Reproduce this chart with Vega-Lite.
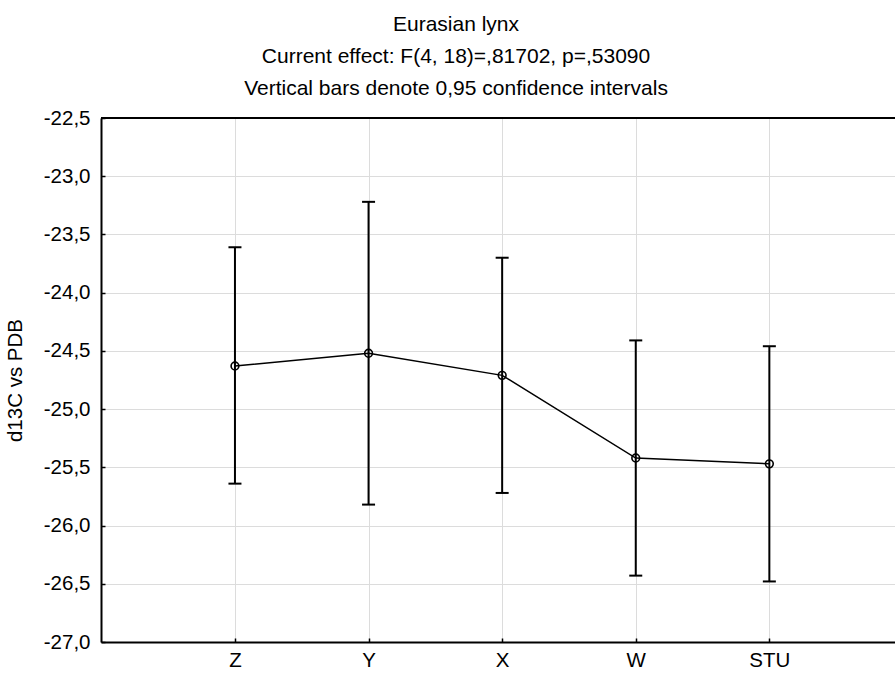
{
  "$schema": "https://vega.github.io/schema/vega-lite/v6.json",
  "width": 794,
  "height": 524,
  "autosize": {"type": "none"},
  "padding": {"left": 101, "top": 118, "right": 0, "bottom": 33},
  "title": {
    "text": ["Eurasian lynx", "Current effect: F(4, 18)=,81702, p=,53090", "Vertical bars denote 0,95 confidence intervals"],
    "anchor": "middle",
    "frame": "group",
    "dx": -42,
    "offset": 9,
    "fontSize": 21,
    "fontWeight": "normal",
    "font": "Liberation Sans",
    "color": "#000000",
    "lineHeight": 32
  },
  "data": {
    "values": [
      {"group": "Z", "mean": -24.63, "lower": -25.64, "upper": -23.61},
      {"group": "Y", "mean": -24.52, "lower": -25.82, "upper": -23.22},
      {"group": "X", "mean": -24.71, "lower": -25.72, "upper": -23.70},
      {"group": "W", "mean": -25.42, "lower": -26.43, "upper": -24.41},
      {"group": "STU", "mean": -25.47, "lower": -26.48, "upper": -24.46}
    ]
  },
  "layer": [
    {
      "mark": {"type": "rule", "color": "#000000", "strokeWidth": 2},
      "encoding": {
        "x": {
          "field": "group",
          "type": "nominal",
          "sort": null,
          "scale": {"type": "point", "padding": 0.9716, "align": 0.516},
          "axis": {
            "title": null,
            "orient": "bottom",
            "labelAngle": 0,
            "labelPadding": 12,
            "tickSize": -4
          }
        },
        "y": {
          "field": "lower",
          "type": "quantitative",
          "scale": {"domain": [-27, -22.5], "nice": false, "zero": false},
          "axis": {
            "title": "d13C vs PDB",
            "values": [-27, -26.5, -26, -25.5, -25, -24.5, -24, -23.5, -23, -22.5],
            "format": ".1f",
            "labelPadding": 15,
            "tickSize": -4,
            "titlePadding": 18
          }
        },
        "y2": {"field": "upper"}
      }
    },
    {
      "mark": {"type": "tick", "color": "#000000", "size": 13, "thickness": 2, "opacity": 1},
      "encoding": {
        "x": {"field": "group", "type": "nominal", "sort": null},
        "y": {"field": "upper", "type": "quantitative"}
      }
    },
    {
      "mark": {"type": "tick", "color": "#000000", "size": 13, "thickness": 2, "opacity": 1},
      "encoding": {
        "x": {"field": "group", "type": "nominal", "sort": null},
        "y": {"field": "lower", "type": "quantitative"}
      }
    },
    {
      "mark": {"type": "line", "color": "#000000", "strokeWidth": 1.5},
      "encoding": {
        "x": {"field": "group", "type": "nominal", "sort": null},
        "y": {"field": "mean", "type": "quantitative"}
      }
    },
    {
      "mark": {"type": "point", "filled": false, "color": "#000000", "size": 60, "strokeWidth": 1.6, "opacity": 1},
      "encoding": {
        "x": {"field": "group", "type": "nominal", "sort": null},
        "y": {"field": "mean", "type": "quantitative"}
      }
    },
    {
      "mark": {"type": "rule", "color": "#000000", "strokeWidth": 2},
      "encoding": {"y": {"datum": -22.5}}
    }
  ],
  "config": {
    "locale": {
      "number": {"decimal": ",", "thousands": ".", "grouping": [3], "currency": ["", ""], "minus": "-"}
    },
    "view": {"stroke": null},
    "font": "Liberation Sans",
    "axis": {
      "domainColor": "#000000",
      "domainWidth": 2,
      "tickColor": "#000000",
      "tickWidth": 1.5,
      "grid": true,
      "gridColor": "#dcdcdc",
      "gridWidth": 1,
      "labelFont": "Liberation Sans",
      "labelFontSize": 20.5,
      "labelColor": "#000000",
      "titleFont": "Liberation Sans",
      "titleFontSize": 20.5,
      "titleFontWeight": "normal",
      "titleColor": "#000000"
    }
  }
}
